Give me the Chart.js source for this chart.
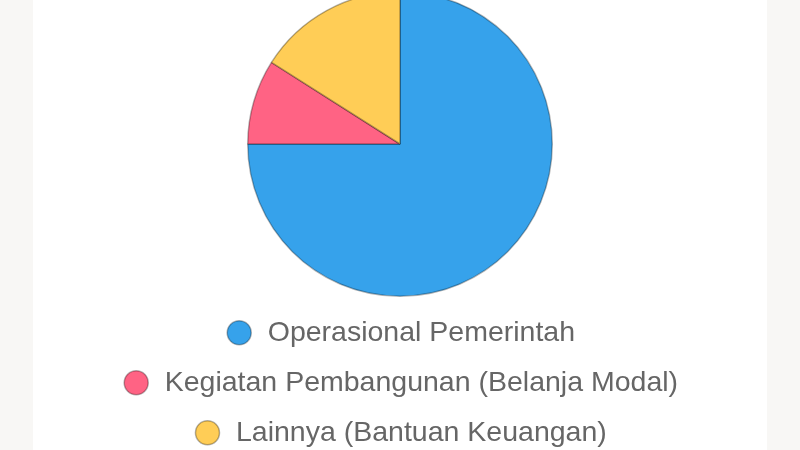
<!DOCTYPE html>
<html>
<head>
<meta charset="utf-8">
<script src="https://cdn.jsdelivr.net/npm/chart.js@4/dist/chart.umd.min.js"></script>
<style>
  html, body { margin: 0; padding: 0; background: #f8f7f5; overflow: hidden; }
  .panel { position: absolute; left: 33px; width: 734px; top: 0; height: 450px; background: #fff; }
  .wrap { position: absolute; left: 0; top: -9px; width: 734px; height: 466px; }
</style>
</head>
<body>
<div class="panel">
  <div class="wrap"><canvas id="pieChart"></canvas></div>
</div>
<script>
  const labels = [
    "Operasional Pemerintah",
    "Kegiatan Pembangunan (Belanja Modal)",
    "Lainnya (Bantuan Keuangan)",
  ];
  const shares = [75, 9, 16];
  const fills = ["#36A2EB", "#FF6384", "#FFCD56"];

  new Chart(document.getElementById("pieChart"), {
    type: "pie",
    data: {
      labels: labels,
      datasets: [
        {
          data: shares,
          backgroundColor: fills,
          borderColor: "rgba(0,0,0,0.3)",
          borderWidth: 1.5,
        },
      ],
    },
    options: {
      responsive: true,
      maintainAspectRatio: false,
      animation: false,
      plugins: {
        legend: {
          position: "bottom",
          labels: {
            usePointStyle: true,
            pointStyle: "circle",
            boxHeight: 17,
            padding: 21.5,
            color: "#666",
            font: { size: 28.5, family: "'Liberation Sans', Arial, sans-serif" },
          },
        },
        tooltip: { enabled: false },
      },
    },
  });
</script>
</body>
</html>
